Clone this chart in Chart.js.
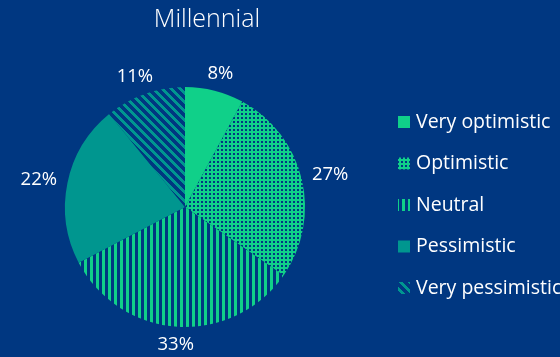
<!DOCTYPE html>
<html>
<head>
<meta charset="utf-8">
<script src="https://cdn.jsdelivr.net/npm/chart.js@4"></script>
<style>
    html, body { margin: 0; padding: 0; background: #003781; overflow: hidden; }
    #wrap { width: 560px; height: 357px; position: relative; }
</style>
</head>
<body>
<div id="wrap"><canvas id="pieChart"></canvas></div>
<script>
// Survey answers, Millennial group
const chartTitle = 'Millennial';
const labels = ['Very optimistic', 'Optimistic', 'Neutral', 'Pessimistic', 'Very pessimistic'];
const values = [8, 27, 33, 22, 11];

const NAVY = '#003781';
const GREEN = '#10d089';
const TEAL = '#00968f';
const FONT = '"Open Sans", Lato, sans-serif';

// Build a repeating fill from a small tile
function makePattern(size, draw) {
    const c = document.createElement('canvas');
    c.width = size;
    c.height = size;
    const g = c.getContext('2d');
    draw(g, size);
    return g.createPattern(c, 'repeat');
}

function buildFills(ctx) {
    const dots = makePattern(4, (g) => {
        g.fillStyle = GREEN;
        g.fillRect(0, 0, 4, 4);
        g.fillStyle = NAVY;
        g.fillRect(1, 1, 2, 2);
    });
    const vertical = makePattern(6, (g) => {
        g.fillStyle = NAVY;
        g.fillRect(0, 0, 6, 6);
        g.fillStyle = GREEN;
        g.fillRect(0, 0, 3, 6);
    });
    const diagonal = makePattern(9, (g, n) => {
        g.fillStyle = NAVY;
        g.fillRect(0, 0, n, n);
        g.fillStyle = TEAL;
        for (let y = 0; y < n; y++) {
            for (let x = 0; x < n; x++) {
                if (((x - y) % n + n) % n < 4) g.fillRect(x, y, 1, 1);
            }
        }
    });
    return [GREEN, dots, vertical, TEAL, diagonal];
}

// Title, percent labels and legend drawn on top of the pie
const decorations = {
    id: 'decorations',
    afterDraw(chart) {
        const ctx = chart.ctx;
        const meta = chart.getDatasetMeta(0);
        const fills = chart.data.datasets[0].backgroundColor;
        ctx.save();
        ctx.fillStyle = '#ffffff';

        // title
        ctx.font = '300 25px ' + FONT;
        ctx.textAlign = 'center';
        ctx.textBaseline = 'middle';
        ctx.fillText(chartTitle, 207, 20);

        // percent labels just outside each slice
        const total = values.reduce((a, b) => a + b, 0);
        ctx.font = '18.5px ' + FONT;
        meta.data.forEach((arc, i) => {
            const p = arc.getProps(['x', 'y', 'startAngle', 'endAngle', 'outerRadius'], true);
            const mid = (p.startAngle + p.endAngle) / 2;
            const text = Math.round(values[i] / total * 100) + '%';
            const w = ctx.measureText(text).width;
            const h = 14;
            const r = p.outerRadius + 11;
            const x = p.x + Math.cos(mid) * r + Math.cos(mid) * w / 2;
            const y = p.y + Math.sin(mid) * r + Math.sin(mid) * h / 2;
            ctx.fillText(text, x, y);
        });

        // legend
        ctx.font = '19.5px ' + FONT;
        ctx.textAlign = 'left';
        labels.forEach((label, i) => {
            const y = 122 + i * 41.5;
            ctx.fillStyle = fills[i];
            ctx.fillRect(398, y - 6, 12, 12);
            ctx.fillStyle = '#ffffff';
            ctx.fillText(label, 416, y);
        });
        ctx.restore();
    }
};

document.addEventListener('DOMContentLoaded', function() {
    const canvas = document.getElementById('pieChart');
    const fills = buildFills(canvas.getContext('2d'));

    new Chart(canvas, {
        type: 'pie',
        data: {
            labels: labels,
            datasets: [{
                data: values,
                backgroundColor: fills,
                borderWidth: 0
            }]
        },
        options: {
            responsive: true,
            maintainAspectRatio: false,
            animation: false,
            layout: {
                padding: { top: 87, left: 65, right: 255, bottom: 30 }
            },
            plugins: {
                legend: { display: false },
                tooltip: { enabled: false }
            }
        },
        plugins: [decorations]
    });
});
</script>
</body>
</html>
